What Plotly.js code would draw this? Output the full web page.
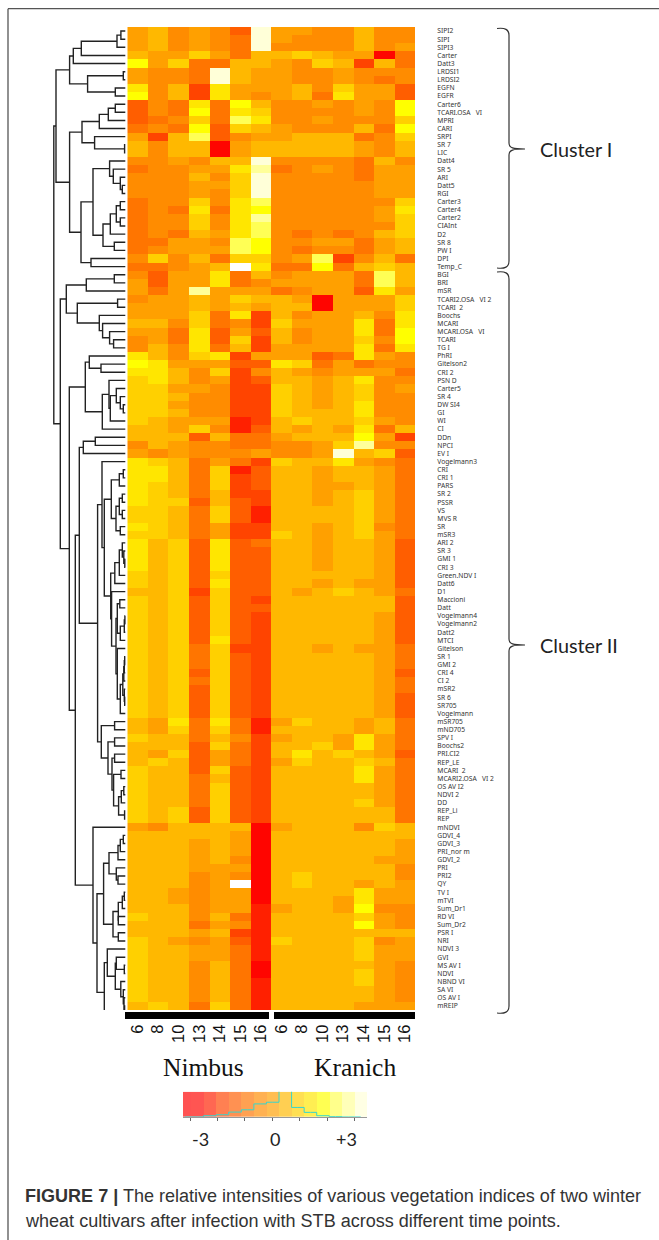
<!DOCTYPE html>
<html><head><meta charset="utf-8">
<script src="https://cdn.plot.ly/plotly-3.0.1.min.js"></script>
<style>html,body{margin:0;padding:0;background:#fff}</style></head>
<body><div id="chart" style="width:659px;height:1240px"></div>
<script>
const timePoints = ["6","8","10","13","14","15","16"];
const cultivars = ["Nimbus","Kranich"];
const indices = ["SIPI2","SIPI","SIPI3","Carter","Datt3","LRDSI1","LRDSI2","EGFN","EGFR","Carter6","TCARI.OSA\u00a0\u00a0\u00a0VI","MPRI","CARI","SRPI","SR 7","LIC","Datt4","SR 5","ARI","Datt5","RGI","Carter3","Carter4","Carter2","CIAInt","D2","SR 8","PW I","DPI","Temp_C",
"BGI","BRI","mSR","TCARI2.OSA\u00a0\u00a0\u00a0VI 2","TCARI\u00a0\u00a02","Boochs","MCARI","MCARI.OSA\u00a0\u00a0\u00a0VI","TCARI","TG I","PhRI","Gitelson2","CRI 2","PSN D","Carter5","SR 4","DW SI4","GI","WI","CI","DDn","NPCI","EV I",
"Vogelmann3","CRI","CRI 1","PARS","SR 2","PSSR","VS","MVS R","SR","mSR3","ARI 2","SR 3","GMI 1","CRI 3","Green.NDV I","Datt6","D1","Maccioni","Datt","Vogelmann4","Vogelmann2","Datt2","MTCI","Gitelson","SR 1","GMI 2","CRI 4","CI 2","mSR2","SR 6","SR705","Vogelmann",
"mSR705","mND705","SPV I","Boochs2","PRI.CI2","REP_LE","MCARI\u00a0\u00a02","MCARI2.OSA\u00a0\u00a0\u00a0VI 2","OS AV I2","NDVI 2","DD","REP_Li","REP",
"mNDVI","GDVI_4","GDVI_3","PRI_nor m","GDVI_2","PRI","PRI2","QY","TV I","mTVI","Sum_Dr1","RD VI","Sum_Dr2","PSR I","NRI","NDVI 3","GVI","MS AV I","NDVI","NBND VI","SA VI","OS AV I","mREIP"];

// relative intensity per index, in colour-key steps (0 = most common step)
const nimbus = [
[-1,0,-2,-1,-2,-4,6],[-1,0,-2,-1,-2,-3,6],[-1,0,-2,-1,-2,-3,6],[0,-1,-1,1,-1,-3,0],[3,-1,1,-3,-3,0,0],
[-1,-2,-2,-3,6,0,-1],[-1,-2,-2,-3,6,0,-1],[2,-2,0,-5,2,-1,-1],[3,-2,0,-5,2,-1,-2],[-4,-2,-3,2,-3,3,0],
[-4,-2,-3,3,-3,2,1],[-4,-3,-2,1,-3,4,2],[-3,-2,-3,3,-4,1,0],[-1,-5,0,4,-4,-2,-1],[0,-2,0,0,-7,-1,0],
[0,-2,0,0,-7,-1,0],[-2,-2,-1,-2,0,0,6],[-3,-2,-2,-1,-1,2,5],[-2,-2,-2,0,-2,1,6],[-2,-2,-2,-1,-1,1,6],
[-2,-2,-2,-1,-2,1,6],[-3,-2,-2,1,-2,2,4],[-3,-2,-3,2,-3,2,3],[-3,-2,-2,1,-2,2,5],[-3,-2,-2,1,-2,2,4],
[-3,-2,-3,0,-1,2,4],[-3,-3,-1,-1,-2,4,3],[-3,-2,-1,-1,-1,4,3],[-2,1,-2,0,-3,1,1],[-3,-3,-2,-1,0,7,2],
[-2,-4,-1,-1,2,-3,0],[-1,-4,-1,-1,2,-3,-2],[-1,-3,-1,5,-1,-1,-1],[-2,-1,-1,0,-1,1,0],[-1,-1,-1,0,-1,0,-1],
[-1,-1,-1,1,-3,2,-5],[0,0,-2,1,-3,-2,-5],[-1,-1,-3,2,-4,-1,-4],[-2,-1,-3,2,-4,1,-5],[-2,0,-2,2,-3,0,-5],
[2,0,-2,1,2,-5,-1],[3,2,-1,-1,-1,-4,-4],[2,2,0,-2,1,-5,-2],[1,2,0,-2,-1,-5,-4],[1,1,-1,-1,-2,-5,-5],
[1,1,0,-2,-2,-5,-5],[1,1,-1,-2,-2,-5,-5],[1,1,0,-2,-2,-5,-5],[1,0,-1,-1,-1,-6,-5],[0,0,-1,1,-2,-6,-4],
[0,0,0,-4,0,-3,-3],[-2,0,-1,-2,-2,-3,-3],[-1,-2,-1,-2,-2,-2,-1],[2,1,0,-3,-1,-3,-5],[2,2,0,-3,1,-6,-4],
[2,2,0,-3,1,-5,-4],[2,1,0,-3,1,-5,-4],[2,1,0,-3,0,-5,-5],[2,1,1,-4,0,-4,-5],[1,1,0,-3,1,-4,-6],
[1,1,0,-3,1,-4,-6],[2,1,0,-3,-1,-5,-5],[1,1,0,-3,-1,-5,-5],[2,0,1,-4,2,-4,-3],[2,0,1,-4,2,-4,-4],
[2,0,1,-4,2,-4,-4],[2,0,1,-4,2,-4,-4],[1,0,1,-4,1,-4,-4],[1,0,1,-4,2,-4,-4],[0,0,1,-5,1,-4,-4],
[1,0,1,-4,1,-4,-5],[1,0,1,-4,1,-4,-4],[1,0,1,-4,1,-4,-5],[1,0,1,-4,1,-4,-5],[1,0,1,-4,1,-4,-5],
[1,0,1,-4,2,-4,-5],[1,0,1,-3,1,-5,-5],[1,0,1,-3,1,-4,-5],[1,0,1,-3,1,-4,-5],[1,0,1,-4,1,-4,-5],
[1,0,1,-3,1,-4,-5],[1,0,1,-4,1,-4,-5],[1,0,1,-4,1,-4,-5],[1,0,1,-4,1,-4,-5],[1,0,1,-4,1,-4,-5],
[0,-1,2,-3,2,-3,-6],[0,-1,1,-3,1,-3,-6],[1,0,0,-3,0,-2,-5],[0,0,0,-4,1,-3,-5],[0,-1,1,-4,-1,-3,-5],
[0,1,0,-4,-1,-3,-5],[1,0,0,-4,1,-4,-5],[1,0,0,-3,0,-4,-5],[1,0,0,-3,1,-4,-5],[1,0,0,-3,1,-4,-5],
[1,0,0,-3,1,-4,-5],[1,0,1,-4,1,-4,-5],[1,0,1,-4,1,-4,-5],[-1,-2,0,0,0,0,-7],[0,0,0,0,0,-1,-7],
[0,0,0,-1,0,-1,-7],[0,0,0,-1,0,-1,-7],[0,0,0,-1,0,-2,-7],[0,0,0,-1,-1,-1,-7],[0,0,0,-2,-1,-2,-7],
[0,0,0,-2,-1,7,-7],[0,0,-1,-2,-1,-1,-7],[0,0,-1,-2,-1,-1,-7],[0,0,0,-2,-1,-1,-6],[1,0,0,-2,0,-3,-6],
[0,0,0,-3,-1,-2,-6],[0,0,0,-1,0,-5,-6],[1,0,-1,-2,-1,-4,-6],[1,0,0,-1,-1,-3,-6],[1,0,0,-1,-1,-3,-6],
[1,0,0,-2,0,-3,-7],[1,0,0,-2,0,-3,-7],[1,0,0,-2,0,-3,-6],[1,0,0,-2,0,-3,-6],[1,0,0,-2,0,-3,-6],
[0,1,0,-3,1,-3,-6]];
const kranich = [
[-1,-1,-2,-2,0,-2,-2],[-1,-2,-2,-2,0,-2,-2],[-2,-2,-2,-2,0,-2,-1],[0,1,0,-1,-1,-7,-3],[-1,-2,1,0,-5,0,-3],
[-1,-2,-2,-1,-2,-2,-2],[-1,-2,-2,-1,-2,-3,-2],[-1,0,-2,1,-1,-1,-4],[-1,0,-3,2,-1,-1,-4],[-2,-2,-1,-2,-1,-2,3],
[-2,-2,-2,-2,-1,-2,3],[-2,-2,-1,-2,-2,-2,1],[-1,-2,-2,-2,0,-3,3],[-1,0,0,0,-3,-2,1],[0,0,0,0,-1,-2,0],
[0,0,0,0,-1,-2,0],[-2,-2,-2,-2,-3,0,-2],[-3,-2,-1,-2,-3,-1,-1],[-2,-2,-2,-2,-3,-1,-1],[-2,-2,-2,-2,-2,-1,-1],
[-2,-2,-2,-2,-2,-1,-1],[-2,-2,-2,-2,-2,-2,1],[-2,-2,-2,-2,-2,-1,2],[-2,-2,-2,-2,-2,-1,1],[-2,-2,-2,-2,-2,-2,1],
[-2,-3,-2,-3,-2,0,1],[-2,-2,-1,-1,-3,-1,0],[-2,-3,-2,-2,-3,-1,0],[-2,-1,4,-5,-2,0,-3],[-3,-3,3,-3,0,1,0],
[-2,-1,-1,-1,-3,4,0],[-1,-1,-1,-1,-3,4,0],[-3,-2,-1,-1,-4,2,-1],[0,-1,-7,-1,-1,-1,1],[0,0,-7,-1,-1,-1,1],
[0,-2,-1,-1,0,-2,2],[1,-1,-1,-1,2,-3,2],[0,-2,-1,-1,2,-3,3],[0,-2,-1,-1,1,-2,3],[-1,-1,-1,-1,2,-3,2],
[-1,-1,-4,-3,2,-1,-2],[2,1,-3,-1,-3,-2,-2],[0,-1,-2,-1,-1,-1,-3],[0,0,-1,0,2,-2,-2],[1,0,-1,0,1,-2,-1],
[1,0,-1,0,1,-2,-2],[1,0,-1,0,2,-2,-2],[1,0,0,0,2,-2,-2],[0,1,0,0,1,-1,-2],[0,-1,0,-1,2,-3,0],
[-1,0,0,0,3,-1,-5],[-2,-2,-1,1,5,-2,-2],[-2,-2,-1,6,0,1,-4],[1,0,0,2,-1,-2,-3],[0,0,-1,0,0,-1,-3],
[0,0,-1,0,0,-1,-3],[0,0,-1,-1,0,-1,-3],[0,0,-1,0,1,-1,-3],[0,0,-1,0,1,-1,-3],[0,0,0,0,1,-1,-3],
[0,0,0,0,1,-1,-3],[0,0,-1,0,1,-2,-3],[1,0,-1,0,1,-1,-3],[0,0,-1,0,0,-1,-4],[0,0,-1,0,0,-1,-4],
[0,0,-1,0,0,-1,-4],[0,0,-1,0,0,-1,-4],[0,0,0,0,0,-1,-4],[0,0,-1,0,-1,-1,-4],[0,-1,0,1,0,-1,-3],
[0,0,0,0,0,0,-4],[0,0,0,0,0,0,-4],[0,0,0,0,0,-1,-4],[0,0,0,0,0,-1,-4],[0,0,0,0,0,-1,-4],
[0,0,0,0,0,-1,-4],[0,0,-1,0,-1,-1,-3],[0,0,0,0,0,-1,-3],[0,0,0,0,0,-1,-3],[0,0,0,0,0,-1,-4],
[0,0,0,0,0,-1,-3],[0,0,0,0,0,-1,-3],[0,0,0,0,0,-1,-4],[0,0,0,0,0,-1,-4],[0,0,0,0,0,-1,-4],
[-1,1,0,0,-1,0,-3],[0,0,0,0,-1,0,-3],[-1,0,0,-1,2,-1,-3],[0,0,1,-1,2,-1,-3],[0,2,0,1,0,-1,-4],
[-1,1,0,0,1,0,-3],[0,0,0,0,2,-1,-3],[0,0,0,0,2,-1,-3],[0,0,0,0,0,-1,-3],[0,0,0,0,0,-1,-3],
[0,0,0,0,1,-1,-3],[0,0,0,0,0,0,-3],[0,0,0,0,0,0,-3],[-1,0,0,0,-2,1,0],[0,0,0,0,0,0,0],
[0,0,0,0,0,0,-1],[0,0,0,0,0,0,-1],[0,0,0,0,0,-1,-1],[0,0,0,0,0,0,-2],[0,1,0,0,0,0,-2],
[0,1,0,0,-1,0,-1],[0,0,0,0,2,-1,-1],[0,0,0,-1,2,-1,-1],[-1,0,0,-1,3,-2,-2],[0,0,0,0,1,-1,-2],
[0,0,0,0,3,-1,-2],[0,0,0,0,0,0,0],[1,0,0,0,1,-2,-1],[0,0,0,0,1,-1,-1],[0,0,0,0,1,-1,-1],
[0,0,0,0,0,-1,-2],[0,0,0,0,1,-1,-2],[0,0,0,0,1,-1,-2],[0,0,0,0,0,-1,-2],[0,0,0,0,0,-1,-2],
[0,0,0,0,-1,-1,-1]];

// colour key: steps, histogram counts above each step
const keySteps = [-8,-7,-6,-5,-4,-3,-2,-1,0,1,2,3,4,5,6];
const keyCounts = [0,0,1.3,2.3,5,7.3,13.3,15,77,9.7,4.7,1.3,0.3,0,0];
const stepColours = ["#FF0000","#FF0500","#FF2000","#FF4400","#FF5E00","#FF7500","#FF8C00","#FFA000","#FFB800","#FFD000","#FFE600","#FFFF00","#FFFF55","#FFFF99","#FFFFD8","#FFFFFF"];

// dendrogram: [merge height, child, child]; L = a leaf, leaves run top to bottom
const L = 0;
const clusterOne = [71.3,
 [57.7,[54,[46,[10.3,[6.4,L,L],L],L],L],[39.7,[4,L,L],[12,L,L]]],
 [57.7,
  [45.3,[28,[19,[12,L,L],L],L],[32.7,L,[2.7,L,L]]],
  [46.3,
   [34.3,[17.7,L,[14,L,[7,L,[5,L,L]]]],[24.3,[17,[11,[7,L,L],[7,L,L]],L],[13,L,L]]],
   [36.3,L,L]]]];
const mGroup = [10,[7.5,L,L],[7,[3,[2.4,L,L],L],L]];
const gGroup = [10,L,[7,[4.5,[3.5,[3,[2.6,L,L],L],L],[3,L,[2.6,L,L]]],L]];
const clusterTwo = [67,
 [61,[41,[13,L,L],L],[50,[9.7,L,L],[28,L,[24.7,L,[17.7,L,[13.7,L,L]]]]]],
 [58,
  [42,[38,L,[26.3,L,L]],[25,[18.3,L,[17,[11,L,[7,L,[4,L,L]]],L]],L]],
  [52,
   [48,
    [44,[32,L,L],L],
    [29.7,
     [25.3,L,[23,
       [16,[8,[4,L,L],L],[11.3,[8,[5,L,L],[5,L,L]],[7,L,L]]],
       [16.6,[12.5,[8,[5,L,[3.5,L,[2.5,L,L]]],L],L],[15.7,L,[11.3,mGroup,gGroup]]]]],
     [26,[12.7,L,L],[19.3,[12.7,L,L],[15.3,[12.7,L,L],[13.7,[6.3,L,L],[8.7,[6,[3.5,L,L],L],[2.7,L,L]]]]]]]],
   [34.3,L,[30.3,
     [23.7,[18.3,[9.3,[7,[4,L,L],L],L],[11,L,[9.3,L,L]]],[14.3,[9,[5,[3,L,L],L],[9,L,L]],[9,L,L]]],
     [23,[20,L,[12,[11,L,[3,L,L]],[6.5,L,[4,L,[3.3,L,[2.7,L,L]]]]]],L]]]]]];
const treeRoot = [73.5,clusterOne,clusterTwo];

const W = 659, H = 1240;
const fx = x => x / W, fy = y => 1 - y / H;
const HEAT = {l:127.3, r:415, t:27, b:1010};
const KEY = {l:183, r:367, t:1091.7, b:1117};

const zRows = nimbus.map((row,i) => row.concat(kranich[i]));
const nCols = zRows[0].length;
const colIdx = zRows[0].map((_,i)=>i);
const rowIdx = indices.map((_,i)=>i);

// discrete colour scale
const zmin = -8.5, zmax = 7.5;
const colorscale = [];
stepColours.forEach((c,i)=>{ colorscale.push([i/stepColours.length,c]); colorscale.push([(i+1)/stepColours.length,c]); });

// dendrogram paths through the shared row axis
const treeX = [], treeY = [];
let nextLeaf = 0;
const LEAF_H = 2;
function walk(n){
  if(n===L){ return {y:nextLeaf++, h:LEAF_H}; }
  const a = walk(n[1]), b = walk(n[2]);
  treeX.push(a.h,n[0],n[0],b.h,null);
  treeY.push(a.y,a.y,b.y,b.y,null);
  return {y:(a.y+b.y)/2, h:n[0]};
}
walk(treeRoot);

const KEY_TOP = 25.7;
const traces = [
 {type:"heatmap", x:colIdx, y:rowIdx, z:zRows, zmin, zmax, colorscale, showscale:false, xaxis:"x", yaxis:"y", hoverinfo:"skip"},
 {type:"scatter", mode:"lines", x:treeX, y:treeY, xaxis:"x2", yaxis:"y", line:{color:"#222",width:1.4}, hoverinfo:"skip", connectgaps:false},
 {type:"heatmap", x:keySteps, y:[0,KEY_TOP], z:[keySteps], zmin, zmax, colorscale, showscale:false, opacity:0.68, xaxis:"x3", yaxis:"y3", hoverinfo:"skip"},
 {type:"scatter", mode:"lines", x:keySteps, y:keyCounts, xaxis:"x3", yaxis:"y3", line:{color:"#35d6cf",width:1,shape:"hvh"}, hoverinfo:"skip"}
];

const px = (x,y) => fx(x).toFixed(5)+","+fy(y).toFixed(5);
function bracket(xl,xs,xt,yt,ym,yb){
  return "M"+px(xl,yt)+" C"+px(xs-4,yt-1)+" "+px(xs,yt+1)+" "+px(xs,yt+7)+
   " L"+px(xs,ym-6)+" C"+px(xs,ym-1)+" "+px(xs+4,ym)+" "+px(xt,ym)+
   " C"+px(xs+4,ym)+" "+px(xs,ym+1)+" "+px(xs,ym+6)+
   " L"+px(xs,yb-7)+" C"+px(xs,yb-1)+" "+px(xs-4,yb+1)+" "+px(xl,yb);
}
const rect = (x0,x1,y0,y1)=>({type:"rect",xref:"paper",yref:"paper",x0:fx(x0),x1:fx(x1),y0:fy(y1),y1:fy(y0),fillcolor:"#000",line:{width:0}});
const seg = (x0,y0,x1,y1)=>({type:"line",xref:"paper",yref:"paper",x0:fx(x0),x1:fx(x1),y0:fy(y0),y1:fy(y1),line:{color:"#555",width:1.3}});
const shapes = [
  rect(125,269,1012,1019), rect(274,415,1012,1019),
  seg(8,8.7,659,8.7), seg(8,8.7,8,1240),
  {type:"path",xref:"paper",yref:"paper",path:bracket(497,509,525,28.5,149,268),line:{color:"#333",width:1.2},fillcolor:"rgba(0,0,0,0)"},
  {type:"path",xref:"paper",yref:"paper",path:bracket(497,509,525,272,645,1013),line:{color:"#333",width:1.2},fillcolor:"rgba(0,0,0,0)"}
];
const note = (text,x,y,size,family,color,anchor)=>({text,xref:"paper",yref:"paper",x:fx(x),y:fy(y),showarrow:false,xanchor:anchor||"center",yanchor:"middle",font:{size,family,color:color||"#111"}});
const annotations = [
  note("Cluster I",538,149,19.8,"Lato","#222","left"),
  note("Cluster II",538,645,19.8,"Lato","#222","left"),
  note(cultivars[0],203.5,1067,25.5,"Liberation Serif","#111"),
  note(cultivars[1],354.5,1067,25.5,"Liberation Serif","#111"),
  note("-3",200,1139,18,"Lato","#222"),
  note("0",275,1139,18,"Lato","#222"),
  note("+3",346,1139,18,"Lato","#222"),
  note("<b>FIGURE 7 |</b> The relative intensities of various vegetation indices of two winter",23,1195.6,18.05,"Liberation Sans","#333","left"),
  note("wheat cultivars after infection with STB across different time points.",23,1220.6,18.05,"Liberation Sans","#333","left")
];

const layout = {
  width:W, height:H, margin:{l:0,r:0,t:0,b:0}, paper_bgcolor:"#fff", plot_bgcolor:"rgba(0,0,0,0)", showlegend:false,
  xaxis:{domain:[fx(HEAT.l),fx(HEAT.r)], range:[-0.5,nCols-0.5], anchor:"y", tickmode:"array", tickvals:colIdx,
    ticktext:timePoints.concat(timePoints), tickangle:-90, ticks:"outside", ticklen:7, tickcolor:"rgba(0,0,0,0)",
    tickfont:{family:"Liberation Sans",size:16.5,color:"#111"}, showgrid:false, zeroline:false, showline:false},
  yaxis:{domain:[fy(HEAT.b),fy(HEAT.t)], range:[indices.length-0.5,-0.5], anchor:"x", side:"right", tickmode:"array", tickvals:rowIdx,
    ticktext:indices, ticks:"outside", ticklen:20, tickcolor:"rgba(0,0,0,0)", tickfont:{family:"Noto Sans",size:6.7,color:"#333"},
    showgrid:false, zeroline:false, showline:false},
  xaxis2:{domain:[0,fx(HEAT.l)], range:[HEAT.l,0], anchor:"y", visible:false, showgrid:false, zeroline:false},
  xaxis3:{domain:[fx(KEY.l),fx(KEY.r)], range:[-8.14,6.5], anchor:"y3", tickmode:"linear", tick0:-7.58, dtick:2.18,
    ticks:"outside", ticklen:3, tickcolor:"#666", showticklabels:false, showline:true, linecolor:"#999", linewidth:1, showgrid:false, zeroline:false},
  yaxis3:{domain:[fy(KEY.b),fy(KEY.t)], range:[0,KEY_TOP], anchor:"x3", visible:false, showgrid:false, zeroline:false},
  shapes, annotations
};
Plotly.newPlot("chart",traces,layout,{staticPlot:true,displayModeBar:false});
</script></body></html>
